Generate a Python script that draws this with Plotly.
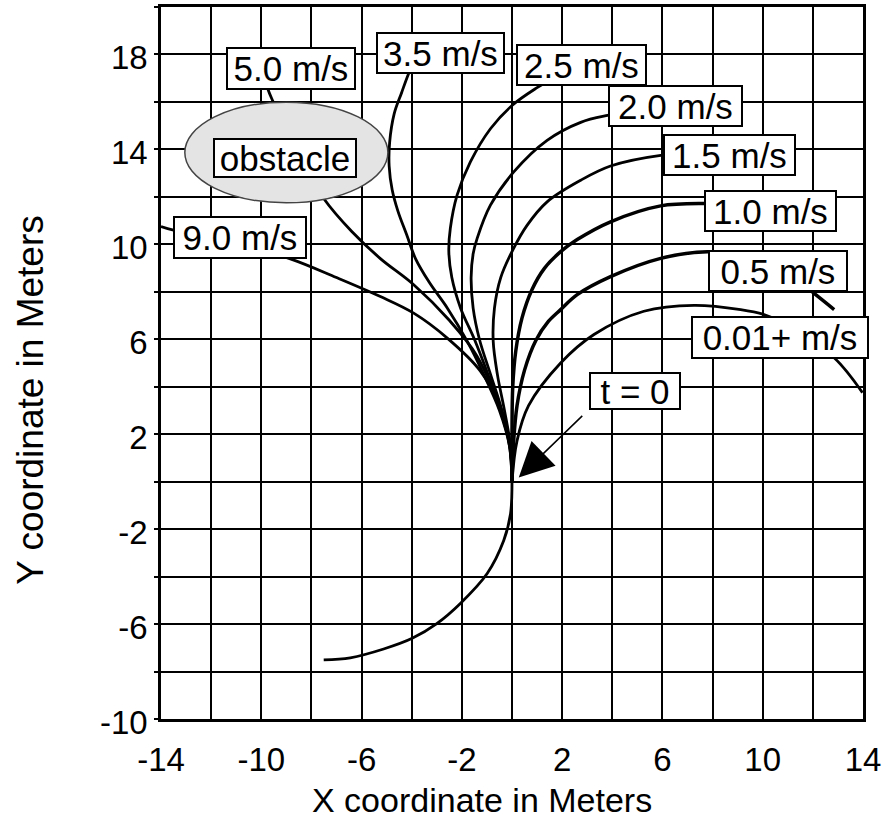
import plotly.graph_objects as go

# ---------------- data ----------------
x_ticks = [-14, -10, -6, -2, 2, 6, 10, 14]
y_ticks = [-10, -6, -2, 2, 6, 10, 14, 18]

# path before t = 0
pre_x = [-7.51, -6.45, -5.12, -3.98, -3.0, -2.06, -0.99, -0.33, -0.06, 0.0]
pre_y = [-7.51, -7.42, -7.05, -6.6, -5.98, -5.13, -3.87, -2.48, -1.36, 0.0]

v90_x = [0.0, -0.06, -0.46, -1.26, -2.57, -3.92, -5.25, -7.0, -8.84, -11.2, -13.5, -14.0]
v90_y = [0.0, 1.43, 3.11, 4.66, 6.04, 7.1, 7.8, 8.6, 9.39, 10.1, 10.6, 10.75]

v50_x = [0.0, -0.08, -0.5, -1.4, -2.5, -3.92, -5.25, -6.4, -7.51, -8.6, -9.52, -9.72, -9.85]
v50_y = [0.0, 1.5, 3.1, 5.3, 6.8, 8.3, 9.4, 10.55, 11.93, 13.9, 15.99, 16.49, 17.0]

v35_x = [0.0, -0.1, -0.5, -1.13, -1.79, -2.57, -3.3, -3.85, -4.2, -4.55, -4.78, -4.9, -4.88, -4.7, -4.4, -4.13, -3.95]
v35_y = [0.0, 1.5, 3.0, 4.52, 5.92, 7.3, 8.4, 9.4, 10.4, 11.4, 12.3, 13.3, 14.3, 15.5, 16.4, 17.18, 17.6]

v25_x = [0.0, -0.1, -0.45, -0.95, -1.5, -2.05, -2.4, -2.52, -2.46, -2.19, -1.66, -0.86, 0.0, 1.0, 1.4]
v25_y = [0.0, 1.5, 3.0, 4.5, 6.0, 7.31, 8.6, 9.7, 10.67, 12.07, 13.47, 14.87, 15.85, 16.6, 16.85]

v20_x = [0.0, -0.08, -0.4, -0.85, -1.3, -1.55, -1.63, -1.55, -1.39, -0.86, 0.07, 1.4, 2.74, 3.81, 4.2]
v20_y = [0.0, 1.5, 3.0, 4.5, 6.0, 7.31, 8.6, 9.6, 10.25, 11.65, 13.05, 14.38, 15.14, 15.43, 15.5]

v15_x = [0.0, -0.06, -0.3, -0.58, -0.75, -0.7, -0.45, 0.05, 0.6, 1.4, 2.74, 3.93, 6.0, 6.3]
v15_y = [0.0, 1.5, 3.0, 4.5, 5.92, 7.31, 8.6, 9.8, 10.8, 11.79, 12.7, 13.3, 13.76, 13.78]

v10_x = [0.0, 0.0, 0.03, 0.15, 0.4, 0.8, 1.3, 1.94, 2.6, 3.93, 5.93, 7.72, 8.0]
v10_y = [0.0, 2.0, 4.0, 5.5, 6.9, 8.1, 9.0, 9.69, 10.2, 10.95, 11.62, 11.72, 11.72]

v05_x = [0.0, 0.06, 0.2, 0.5, 0.95, 1.45, 1.94, 2.6, 3.93, 5.93, 7.79, 9.5, 11.0, 12.05, 12.85]
v05_y = [0.0, 1.6, 3.2, 4.7, 5.95, 6.75, 7.25, 7.88, 8.64, 9.41, 9.69, 9.5, 8.8, 7.93, 7.25]

v001_x = [0.0, 0.2, 0.66, 1.94, 3.27, 5.26, 7.26, 9.12, 10.05, 11.0, 12.85, 13.98]
v001_y = [0.0, 1.72, 3.2, 5.0, 6.2, 7.18, 7.43, 7.25, 7.04, 6.6, 5.22, 3.75]

speed_labels = ["9.0 m/s", "5.0 m/s", "3.5 m/s", "2.5 m/s", "2.0 m/s",
                "1.5 m/s", "1.0 m/s", "0.5 m/s", "0.01+ m/s"]

# ---------------- figure ----------------
FONT = "Liberation Sans, Arial, sans-serif"
fig = go.Figure()

curves = [(pre_x, pre_y, 2.8), (v90_x, v90_y, 2.8), (v50_x, v50_y, 2.8),
          (v35_x, v35_y, 2.8), (v25_x, v25_y, 2.8), (v20_x, v20_y, 2.8),
          (v15_x, v15_y, 2.8), (v10_x, v10_y, 3.5), (v05_x, v05_y, 3.5),
          (v001_x, v001_y, 2.8)]
for cx, cy, w in curves:
    fig.add_trace(go.Scatter(x=cx, y=cy, mode="lines",
                             line=dict(color="black", width=w, shape="spline", smoothing=1.0),
                             showlegend=False, hoverinfo="skip", cliponaxis=True))

# obstacle ellipse
fig.add_shape(type="circle", xref="x", yref="y", x0=-13.05, x1=-4.95, y0=11.75, y1=15.99,
              fillcolor="#e4e4e4", line=dict(color="#444", width=1.5), layer="above")

# label boxes: (text, x, y, outer width px, outer height px)
label_pos = [
    (speed_labels[0], -10.85, 10.29, 134, 43),
    (speed_labels[1], -8.80, 17.41, 130, 43),
    (speed_labels[2], -2.84, 18.08, 129, 42),
    (speed_labels[3], 2.79, 17.56, 131, 42),
    (speed_labels[4], 6.53, 15.81, 135, 42),
    (speed_labels[5], 8.67, 13.77, 133, 42),
    (speed_labels[6], 10.32, 11.41, 133, 42),
    (speed_labels[7], 10.59, 8.89, 140, 42),
    (speed_labels[8], 10.68, 6.06, 178, 43),
    ("obstacle", -9.05, 13.63, 144, 40),
    ("t = 0", 4.90, 3.81, 92, 38),
]
for txt, lx, ly, bw, bh in label_pos:
    fig.add_annotation(x=lx, y=ly, xref="x", yref="y", text=txt, showarrow=False,
                       font=dict(family=FONT, size=35, color="black"),
                       bgcolor="white", bordercolor="black", borderwidth=2, borderpad=0,
                       width=bw - 4, height=bh - 4, xanchor="center", yanchor="middle")

# t = 0 arrow
fig.add_annotation(x=0.27, y=0.18, xref="x", yref="y", text="", showarrow=True,
                   ax=65, ay=-63, axref="pixel", ayref="pixel",
                   arrowhead=2, arrowsize=4.6, arrowwidth=1.5, arrowcolor="black", standoff=0)

# axis titles
fig.add_annotation(x=0.457, y=-0.114, xref="paper", yref="paper", text="X coordinate in Meters",
                   showarrow=False, font=dict(family=FONT, size=34, color="black"),
                   xanchor="center", yanchor="middle")
fig.add_annotation(x=-0.186, y=0.449, xref="paper", yref="paper", text="Y coordinate in Meters",
                   showarrow=False, textangle=-90, font=dict(family=FONT, size=37, color="black"),
                   xanchor="center", yanchor="middle")

axis_common = dict(showline=True, linecolor="black", linewidth=2.5, mirror=True,
                   showgrid=True, gridcolor="black", gridwidth=2, zeroline=False,
                   tickfont=dict(family=FONT, size=33, color="black"),
                   tickmode="array")
fig.update_xaxes(range=[-14, 14], tickvals=x_ticks, ticktext=[str(v) for v in x_ticks],
                 ticks="", ticklabelstandoff=10,
                 minor=dict(tick0=-14, dtick=2, showgrid=True, gridcolor="black", gridwidth=2),
                 **axis_common)
fig.update_yaxes(range=[-10, 20], tickvals=y_ticks, ticktext=[str(v) for v in y_ticks],
                 ticks="outside", ticklen=4, tickwidth=2, tickcolor="black", ticklabelshift=3,
                 minor=dict(tick0=-10, dtick=2, showgrid=True, gridcolor="black", gridwidth=2,
                            ticks="outside", ticklen=4, tickwidth=2, tickcolor="black"),
                 **axis_common)

fig.update_layout(width=892, height=820, margin=dict(l=161, r=29, t=4, b=101),
                  plot_bgcolor="white", paper_bgcolor="white", showlegend=False)

fig.write_html("out.html", config={"displayModeBar": False},
               post_script="document.body.style.margin='0px';")
